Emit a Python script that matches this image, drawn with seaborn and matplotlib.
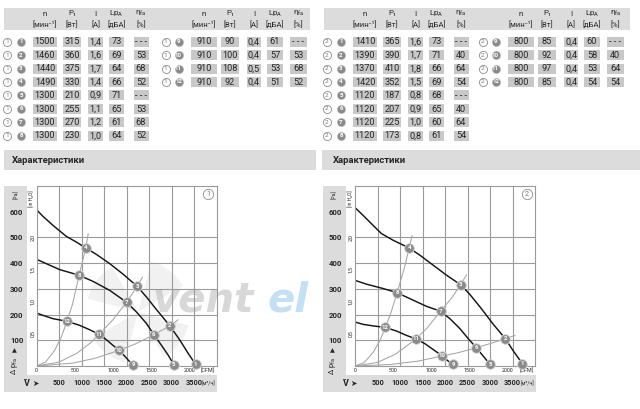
import matplotlib
matplotlib.use("Agg")
import matplotlib.pyplot as plt
from matplotlib.patches import Rectangle, Wedge
import pandas as pd
import seaborn as sns

# --- tabelle dei punti di lavoro (ventola 1 e 2) ---
point_no = list(range(1, 13))

n_1 = [1500, 1460, 1440, 1490, 1300, 1300, 1300, 1300, 910, 910, 910, 910]
p1_1 = [315, 360, 375, 330, 210, 255, 270, 230, 90, 100, 108, 92]
i_1 = [1.4, 1.6, 1.7, 1.4, 0.9, 1.1, 1.2, 1.0, 0.4, 0.4, 0.5, 0.4]
lp_1 = [73, 69, 64, 66, 71, 65, 61, 64, 61, 57, 53, 51]
eta_1 = [None, 53, 68, 52, None, 53, 68, 52, None, 53, 68, 52]

n_2 = [1410, 1390, 1370, 1420, 1120, 1120, 1120, 1120, 800, 800, 800, 800]
p1_2 = [365, 390, 410, 352, 187, 207, 225, 173, 85, 92, 97, 85]
i_2 = [1.6, 1.7, 1.8, 1.5, 0.8, 0.9, 1.0, 0.8, 0.4, 0.4, 0.4, 0.4]
lp_2 = [73, 71, 66, 69, 68, 65, 60, 61, 60, 58, 53, 54]
eta_2 = [None, 40, 64, 54, None, 40, 64, 54, None, 40, 64, 54]

# --- curve caratteristiche: portata [m3/h], pressione [Pa] ---
f1_high_q = [0, 143, 366, 663, 886, 1094, 1331, 1628, 1925, 2237, 2445, 2668, 2965, 3188, 3374, 3537]
f1_high_p = [608, 582, 547, 504, 482, 459, 434, 398, 357, 310, 268, 219, 156, 100, 48, 6]
f1_mid_q = [0, 218, 514, 945, 1257, 1628, 2000, 2222, 2445, 2608, 2779, 2927, 3053]
f1_mid_p = [415, 398, 375, 353, 329, 294, 248, 210, 165, 122, 80, 42, 5]
f1_low_q = [0, 143, 366, 678, 960, 1182, 1390, 1554, 1702, 1836, 1962, 2059, 2148]
f1_low_p = [206, 197, 184, 174, 158, 141, 123, 102, 80, 61, 38, 19, 5]

f1_sysA_q = [0, 200, 400, 550, 678, 800, 947, 1094, 1150]
f1_sysA_p = [0, 15, 60, 112, 174, 240, 353, 459, 515]
f1_sysB_q = [0, 500, 900, 1200, 1390, 1700, 2001, 2238, 2356]
f1_sysB_p = [0, 15, 50, 90, 123, 180, 248, 310, 346]
f1_sysC_q = [0, 800, 1300, 1836, 2200, 2610, 2965, 3150]
f1_sysC_p = [0, 11, 30, 61, 86, 122, 156, 180]

f1_op_q = [3537, 2965, 2237, 1094, 3053, 2608, 2000, 945, 2148, 1836, 1390, 678]
f1_op_p = [6, 156, 310, 459, 5, 122, 248, 353, 5, 61, 123, 174]

f2_high_q = [0, 179, 402, 587, 847, 1203, 1441, 1738, 2035, 2346, 2554, 2777, 3074, 3342, 3520, 3721]
f2_high_p = [616, 586, 547, 515, 489, 459, 431, 392, 353, 316, 278, 230, 162, 106, 58, 9]
f2_mid_q = [0, 260, 631, 936, 1218, 1589, 1901, 2109, 2332, 2518, 2696, 2852, 3000]
f2_mid_p = [333, 318, 301, 285, 262, 232, 213, 184, 145, 106, 71, 38, 6]
f2_low_q = [0, 179, 402, 676, 921, 1144, 1352, 1552, 1738, 1938, 2072, 2183]
f2_low_p = [171, 162, 156, 150, 136, 119, 105, 87, 64, 39, 19, 6]

f2_sysA_q = [0, 200, 400, 550, 676, 800, 936, 1100, 1203, 1270]
f2_sysA_p = [0, 13, 52, 98, 150, 208, 285, 383, 459, 508]
f2_sysB_q = [0, 500, 900, 1352, 1600, 1901, 2150, 2346, 2480]
f2_sysB_p = [0, 14, 46, 105, 147, 213, 265, 316, 355]
f2_sysC_q = [0, 800, 1400, 1938, 2300, 2696, 3000, 3342, 3557]
f2_sysC_p = [0, 6, 19, 39, 52, 71, 87, 106, 119]

f2_op_q = [3721, 3342, 2346, 1203, 3000, 2696, 1901, 936, 2183, 1938, 1352, 676]
f2_op_p = [9, 106, 316, 459, 6, 71, 213, 285, 6, 39, 105, 150]

pa_ticks = [100, 200, 300, 400, 500, 600]
m3h_ticks = [500, 1000, 1500, 2000, 2500, 3000, 3500]
cfm_ticks = [0, 500, 1000, 1500, 2000]
inh2o_ticks = [0.5, 1.0, 1.5, 2.0]

sns.set_theme(style="white")
plt.rcParams["font.family"] = ["Roboto", "DejaVu Sans"]
plt.rcParams["mathtext.default"] = "regular"

W, H = 640, 409
BAND = "#dcdcdc"
CELL = "#c8c8c8"
DARK = "#8a8a8a"
TXT = "#262626"

fig = plt.figure(figsize=(6.4, 4.09), dpi=100)
bg = fig.add_axes([0, 0, 1, 1])
bg.set_xlim(0, W)
bg.set_ylim(H, 0)
bg.axis("off")


def fmt(v):
    return f"{v:.1f}".replace(".", ",")


def circ_open(x, y, label, size=34, fs=4.6):
    bg.scatter([x], [y], s=size, facecolor="white", edgecolor="#8c8c8c", linewidths=0.6, zorder=3)
    bg.text(x, y, label, ha="center", va="center", fontsize=fs, color="#777777", zorder=4)


def circ_filled(x, y, label):
    bg.scatter([x], [y], s=34, facecolor=DARK, edgecolor="#b5b5b5", linewidths=0.4, zorder=3)
    bg.text(x, y, label, ha="center", va="center", fontsize=4.4, color="white",
            fontweight="bold", zorder=4)


G1 = dict(open=7, filled=21, cols=[45, 72, 95.5, 116.7, 141], widths=[24.6, 18.6, 15, 15, 15])
G2 = dict(open=165.5, filled=178.5, cols=[204, 230, 254, 275, 298.3],
          widths=[26, 18.6, 14.3, 15.4, 16.7])
HEAD = ["n", "P₁", "I", "Lp$_A$", "η$_{fa}$"]
UNITS = ["[мин⁻¹]", "[Вт]", "[A]", "[дБА]", "[%]"]


def draw_table(dx1, dx2, fan, n, p1, cur, lp, eta):
    bg.add_patch(Rectangle((4 + dx1, 8), 306, 22, color=BAND, lw=0))
    for g, dx in ((G1, dx1), (G2, dx2)):
        for cx, h, u in zip(g["cols"], HEAD, UNITS):
            bg.text(cx + dx, 13.5, h, ha="center", va="center", fontsize=5.8, color=TXT)
            bg.text(cx + dx, 24.5, u, ha="center", va="center", fontsize=5.6, color=TXT)
    for k in range(12):
        g, dx, row = (G1, dx1, k) if k < 8 else (G2, dx2, k - 8)
        y = 41.7 + 13.4 * row
        circ_open(g["open"] + dx, y, str(fan))
        circ_filled(g["filled"] + dx, y, str(point_no[k]))
        vals = [str(n[k]), str(p1[k]), fmt(cur[k]), str(lp[k]),
                "- - -" if eta[k] is None else str(eta[k])]
        for cx, w, v in zip(g["cols"], g["widths"], vals):
            bg.add_patch(Rectangle((cx + dx - w / 2, y - 5), w, 10, color=CELL, lw=0))
            bg.text(cx + dx, y + 0.3, v, ha="center", va="center", fontsize=6.6, color=TXT)


draw_table(0, 0, 1, n_1, p1_1, i_1, lp_1, eta_1)
draw_table(320, 317, 2, n_2, p1_2, i_2, lp_2, eta_2)

# bande "Характеристики"
bg.add_patch(Rectangle((4, 150), 312, 20, color=BAND, lw=0))
bg.add_patch(Rectangle((322, 150), 318, 20, color=BAND, lw=0))
bg.text(12, 160.5, "Характеристики", ha="left", va="center", fontsize=6.8, fontweight="bold", color=TXT)
bg.text(333, 160.5, "Характеристики", ha="left", va="center", fontsize=6.8, fontweight="bold", color=TXT)


def draw_chart(x0, fan, curves, systems, op_q, op_p):
    dx = x0 - 36.5
    # pannelli grigi delle scale
    bg.add_patch(Rectangle((4 + dx, 186), 23, 206, color=BAND, lw=0))
    bg.add_patch(Rectangle((4 + dx, 375), 213, 17, color=BAND, lw=0))

    ax = fig.add_axes([x0 / W, 1 - 366 / H, 180 / W, 180 / H])
    ax.set_facecolor("white")
    ax.set_xlim(0, 4000)
    ax.set_ylim(0, 700)

    sys_df = pd.concat([pd.DataFrame({"q": q, "p": p, "k": i}) for i, (q, p) in enumerate(systems)])
    sns.lineplot(data=sys_df, x="q", y="p", units="k", estimator=None, sort=False,
                 color="#a5a5a5", lw=0.75, ax=ax, legend=False)
    fan_df = pd.concat([pd.DataFrame({"q": q, "p": p, "k": i}) for i, (q, p) in enumerate(curves)])
    sns.lineplot(data=fan_df, x="q", y="p", units="k", estimator=None, sort=False,
                 color="#151515", lw=1.05, ax=ax, legend=False)

    ax.scatter(op_q, op_p, s=48, facecolor=DARK, edgecolor="#d5d5d5", linewidths=0.6,
               zorder=5, clip_on=False)
    for q, p, k in zip(op_q, op_p, point_no):
        ax.text(q, p, str(k), ha="center", va="center", fontsize=4.3, color="white",
                fontweight="bold", zorder=6, clip_on=False)

    ax.set_xticks(m3h_ticks)
    ax.set_xticklabels([str(t) for t in m3h_ticks], fontsize=5.3, fontweight="bold", color=TXT)
    ax.set_yticks(pa_ticks)
    ax.set_yticklabels([str(t) for t in pa_ticks], fontsize=5.6, fontweight="bold", color=TXT)
    ax.tick_params(axis="x", length=0, pad=9.6)
    ax.tick_params(axis="y", length=0, pad=9.5)
    ax.grid(True, color="#9a9a9a", lw=0.8)
    ax.yaxis.get_gridlines()[-1].set_visible(False)
    ax.set_axisbelow(True)
    for s in ax.spines.values():
        s.set_color("#9a9a9a")
        s.set_linewidth(0.8)
    ax.set_xlabel("")
    ax.set_ylabel("")

    cfm = ax.secondary_xaxis(0, functions=(lambda q: q / 1.699, lambda c: c * 1.699))
    cfm.set_xticks(cfm_ticks)
    cfm.set_xticklabels([str(t) for t in cfm_ticks], fontsize=3.9, color=TXT)
    cfm.tick_params(length=0, pad=1.2)
    cfm.spines["bottom"].set_visible(False)

    inh = ax.secondary_yaxis(0, functions=(lambda p: p / 249.1, lambda h: h * 249.1))
    inh.set_yticks(inh2o_ticks)
    inh.set_yticklabels([fmt(t) for t in inh2o_ticks], fontsize=3.9, color=TXT,
                        rotation=90, va="center")
    inh.tick_params(length=0, pad=1)
    inh.spines["left"].set_visible(False)

    # testi delle scale
    bg.text(16 + dx, 195, "[Pa]", rotation=90, ha="center", va="center", fontsize=3.8, color=TXT)
    bg.text(31.5 + dx, 199, "[in H₂O]", rotation=90, ha="center", va="center", fontsize=3.6, color=TXT)
    bg.text(208 + dx, 370.5, "[CFM]", ha="center", va="center", fontsize=3.9, color=TXT)
    bg.text(209 + dx, 384, "[м³/ч]", ha="center", va="center", fontsize=3.9, color=TXT)
    bg.text(27 + dx, 383.5, "V̇", ha="center", va="center", fontsize=6.5, fontweight="bold", color=TXT)
    bg.text(35 + dx, 383.5, "➤", ha="center", va="center", fontsize=5.5, color=TXT,
            family=["DejaVu Sans"])
    bg.text(14 + dx, 351, "▲", ha="center", va="center", fontsize=4.6, color=TXT, family=["DejaVu Sans"])
    bg.text(14 + dx, 366, "Δ p$_{fa}$", rotation=90, ha="center", va="center", fontsize=5.4, color=TXT)

    ax.scatter([0.953], [0.955], s=55, facecolor="white", edgecolor="#8c8c8c", linewidths=0.6,
               transform=ax.transAxes, zorder=5, clip_on=False)
    ax.text(0.953, 0.955, str(fan), transform=ax.transAxes, ha="center", va="center",
            fontsize=5.2, color="#777777", zorder=6)
    return ax


ax1 = draw_chart(36.5, 1,
                 [(f1_high_q, f1_high_p), (f1_mid_q, f1_mid_p), (f1_low_q, f1_low_p)],
                 [(f1_sysA_q, f1_sysA_p), (f1_sysB_q, f1_sysB_p), (f1_sysC_q, f1_sysC_p)],
                 f1_op_q, f1_op_p)
draw_chart(355, 2,
           [(f2_high_q, f2_high_p), (f2_mid_q, f2_mid_p), (f2_low_q, f2_low_p)],
           [(f2_sysA_q, f2_sysA_p), (f2_sysB_q, f2_sysB_p), (f2_sysC_q, f2_sysC_p)],
           f2_op_q, f2_op_p)

# filigrana: ventola stilizzata + scritta
for t1, t2 in ((15, 60), (105, 150), (195, 240), (285, 330)):
    ax1.add_patch(Wedge((138, 312), 52, t1, t2, transform=bg.transData, facecolor="#ececec",
                        edgecolor="none", alpha=0.7, zorder=0.3, clip_on=False))
ax1.text(152, 300, "vent", transform=bg.transData, fontsize=29, fontweight="heavy",
         style="italic", color="#b8b8b8", alpha=0.55, ha="left", va="center",
         family=["DejaVu Sans"], zorder=0.4, clip_on=False)
ax1.text(268, 300, "el", transform=bg.transData, fontsize=29, fontweight="heavy",
         style="italic", color="#a6d0ec", alpha=0.65, ha="left", va="center",
         family=["DejaVu Sans"], zorder=0.4, clip_on=False)

fig.savefig("out.png", dpi=100)
